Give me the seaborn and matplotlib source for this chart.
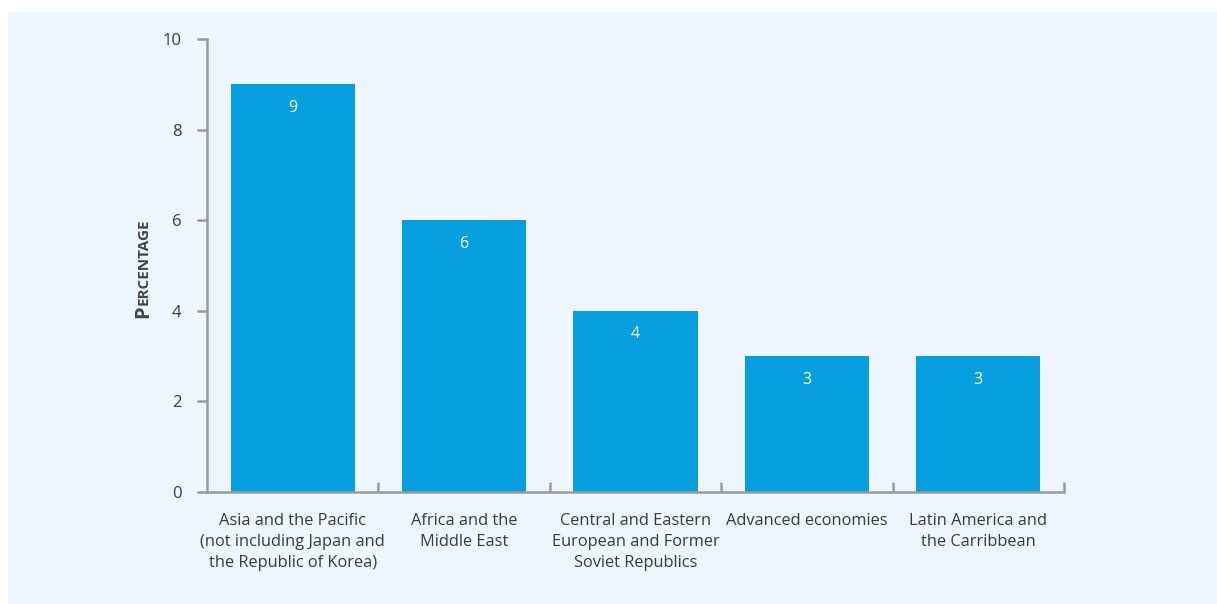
import matplotlib
matplotlib.use("Agg")
import matplotlib.pyplot as plt
import seaborn as sns
import pandas as pd
from matplotlib.patches import Rectangle
from matplotlib.ticker import FixedLocator

categories = [
    "Asia and the Pacific\n(not including Japan and\nthe Republic of Korea)",
    "Africa and the\nMiddle East",
    "Central and Eastern\nEuropean and Former\nSoviet Republics",
    "Advanced economies",
    "Latin America and\nthe Carribbean",
]
values = [9, 6, 4, 3, 3]
yticks = [0, 2, 4, 6, 8, 10]

sns.set_theme(style="white")
plt.rcParams["font.family"] = ["Open Sans", "DejaVu Sans"]

W, H = 1217, 604
fig = plt.figure(figsize=(W / 100, H / 100), dpi=100)
fig.patch.set_facecolor("white")
fig.patches.append(Rectangle((8 / W, 0), 1 - 8 / W, (H - 12) / H,
                             transform=fig.transFigure, facecolor="#EEF5FD",
                             edgecolor="none", zorder=-10))

ax = fig.add_axes([207 / W, (H - 492) / H, (1064 - 207) / W, (492 - 39) / H])
ax.set_facecolor("none")
ax.set_zorder(5)

df = pd.DataFrame({"cat": categories, "val": values})
bar_color = "#069EDC"
sns.barplot(data=df, x="cat", y="val", color=bar_color, saturation=1,
            width=0.725, linewidth=0, edgecolor=bar_color, ax=ax)

for i, v in enumerate(values):
    ax.annotate(str(v), xy=(i, v), xytext=(0, -17), textcoords="offset points",
                ha="center", va="center", color="white", fontsize=11.5)

ax.set_xlim(-0.5, len(categories) - 0.5)
ax.set_ylim(0, 10)
ax.set_yticks(yticks)
ax.set_xlabel("")
ax.set_ylabel("")

spine_c = "#9A9A9A"
for s in ["top", "right"]:
    ax.spines[s].set_visible(False)
for s in ["left", "bottom"]:
    ax.spines[s].set_color(spine_c)
    ax.spines[s].set_linewidth(1.8)
ax.spines["bottom"].set_bounds(-0.5, len(categories) - 0.5)

ax.tick_params(axis="y", left=True, direction="out", length=7.2, width=1.8,
               color=spine_c, labelsize=12, labelcolor="#3A3A3A", pad=11)
ax.tick_params(axis="x", which="major", length=0, labelsize=11.8,
               labelcolor="#3A3A3A", pad=15)
ax.xaxis.set_minor_locator(FixedLocator([i + 0.5 for i in range(len(categories))]))
ax.tick_params(axis="x", which="minor", direction="in", length=7.2, width=1.8,
               color=spine_c, bottom=True)
for lbl in ax.get_xticklabels():
    lbl.set_linespacing(1.42)
    lbl.set_multialignment("center")

# Small-caps style y label "PERCENTAGE"
fig.canvas.draw()
r = fig.canvas.get_renderer()
bx, by = 148 / W, (H - 318) / H
t1 = fig.text(bx, by, "P", rotation=90, rotation_mode="anchor", ha="left",
              va="baseline", fontsize=14.5, fontweight="bold", color="#444444")
ext = t1.get_window_extent(renderer=r)
t2 = fig.text(bx, by + (ext.height + 0.5) / H, "ERCENTAGE", rotation=90,
              rotation_mode="anchor", ha="left", va="baseline", fontsize=11,
              fontweight="bold", color="#444444")

fig.savefig("out.png", dpi=100, facecolor=fig.get_facecolor())
